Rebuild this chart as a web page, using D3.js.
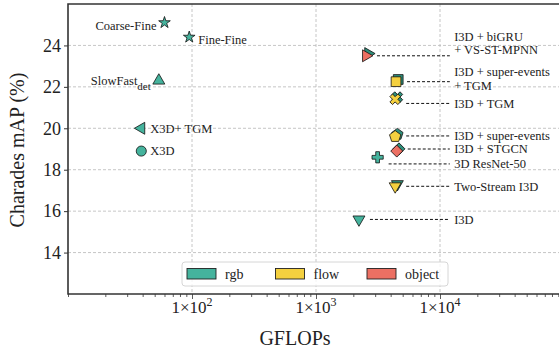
<!DOCTYPE html>
<html>
<head>
<meta charset="utf-8">
<script src="https://cdn.jsdelivr.net/npm/d3@7"></script>
<style>
  body { margin: 0; background: white; }
  text { font-family: 'Liberation Serif', 'DejaVu Serif', serif; fill: #222; }
</style>
</head>
<body>
<script>
// data
const models = ['Coarse-Fine', 'Fine-Fine', 'SlowFast', 'X3D+ TGM', 'X3D',
  'I3D + biGRU|+ VS-ST-MPNN', 'I3D + super-events|+ TGM', 'I3D + TGM',
  'I3D + super-events', 'I3D + STGCN', '3D ResNet-50', 'Two-Stream I3D', 'I3D'];
const gflops = [60, 95, 54, 39, 39, 2530, 4420, 4350, 4350, 4480, 3140, 4350, 2220];
const mAP = [25.1, 24.4, 22.3, 20.0, 18.9, 23.5, 22.25, 21.4, 19.6, 18.9, 18.6, 17.2, 15.6];
const modality = ['rgb', 'rgb', 'rgb', 'rgb', 'rgb', 'object', 'flow', 'flow', 'flow', 'object', 'rgb', 'flow', 'rgb'];
const plusRgb = [false, false, false, false, false, true, true, true, true, true, false, true, false];
const shapes = ['star', 'star', 'triUp', 'triLeft', 'circle', 'triRight', 'square', 'x', 'pentagon', 'diamond', 'plus', 'triDown', 'triDown'];
// where the label sits: left/right of the marker, or in the right-hand column
const labelSide = ['end', 'start', 'end', 'start', 'start', 'col', 'col', 'col', 'col', 'col', 'col', 'col', 'col'];
const labelMAP = [null, null, null, null, null, 24.1, 22.4, 21.2, 19.63, 19.0, 18.28, 17.2, 15.6];
const subs = ['', '', 'det', '', '', '', '', '', '', '', '', '', ''];

const legendKeys = ['rgb', 'flow', 'object'];
const colors = { rgb: '#45B39D', flow: '#F4D03F', object: '#EC7063' };
const yTicks = [14, 16, 18, 20, 22, 24];
const xMajor = [100, 1000, 10000];

let dim = { width: 559, height: 351 };
let svg = d3.select('body').append('svg').attr('width', dim.width).attr('height', dim.height);

let plot = { left: 68, top: 4, right: 564, bottom: 294 };
let x = d3.scaleLog().domain([10, 1e5]).range([plot.left, plot.right]);
let y = d3.scaleLinear().domain([12, 26]).range([plot.bottom, plot.top]);

// grid
let grid = svg.append('g').attr('stroke', '#b8b8b8').attr('stroke-width', 0.8).attr('stroke-dasharray', '3 2');
grid.selectAll('.gx').data(xMajor).enter().append('line')
  .attr('x1', d => x(d)).attr('x2', d => x(d)).attr('y1', plot.top).attr('y2', plot.bottom);
grid.selectAll('.gy').data(yTicks).enter().append('line')
  .attr('x1', plot.left).attr('x2', plot.right).attr('y1', d => y(d)).attr('y2', d => y(d));

// axes
let xAxis = d3.axisBottom(x).tickValues(x.ticks()).tickFormat('')
  .tickSize(0).tickSizeOuter(0);
let gx = svg.append('g').attr('transform', `translate(0,${plot.bottom})`).call(xAxis);
gx.select('.domain').remove();
gx.selectAll('.tick line').attr('stroke', '#333')
  .attr('y2', d => xMajor.includes(d) ? 5 : 3).attr('stroke-width', 0.8);
let xl = gx.selectAll('.tl').data(xMajor).enter().append('text')
  .attr('x', d => x(d)).attr('y', 19).attr('text-anchor', 'middle')
  .style('font-size', '17px');
xl.append('tspan').text('1×10');
xl.append('tspan').attr('dy', -7).style('font-size', '12px').text(d => Math.log10(d));

let yAxis = d3.axisLeft(y).tickValues(yTicks).tickSize(4).tickPadding(3);
let gy = svg.append('g').attr('transform', `translate(${plot.left},0)`).call(yAxis);
gy.select('.domain').remove();
gy.selectAll('.tick line').attr('stroke', '#333');
gy.selectAll('.tick text').style('font-size', '18px').style('font-family', 'Liberation Serif').attr('fill', '#222');

// spines
svg.append('polyline')
  .attr('points', `${plot.right},${plot.top} ${plot.left},${plot.top} ${plot.left},${plot.bottom} ${plot.right},${plot.bottom}`)
  .attr('fill', 'none').attr('stroke', '#333').attr('stroke-width', 1.6);

// axis titles
svg.append('text').attr('x', 295).attr('y', 345).attr('text-anchor', 'middle')
  .style('font-size', '20px').text('GFLOPs');
svg.append('text').attr('transform', 'translate(24,150) rotate(-90)').attr('text-anchor', 'middle')
  .style('font-size', '20px').text('Charades mAP (%)');

// marker shapes
const pentagon = {
  draw(ctx, size) {
    let r = Math.sqrt(size / (2.5 * Math.sin(2 * Math.PI / 5)));
    for (let i = 0; i < 5; i++) {
      let a = -Math.PI / 2 + i * 2 * Math.PI / 5;
      if (i === 0) ctx.moveTo(r * Math.cos(a), r * Math.sin(a));
      else ctx.lineTo(r * Math.cos(a), r * Math.sin(a));
    }
    ctx.closePath();
  }
};
const shapeDefs = {
  star: [d3.symbolStar, 42, 0],
  triUp: [d3.symbolTriangle, 62, 0],
  triLeft: [d3.symbolTriangle, 62, -90],
  triRight: [d3.symbolTriangle, 62, 90],
  triDown: [d3.symbolTriangle, 62, 180],
  circle: [d3.symbolCircle, 80, 0],
  square: [d3.symbolSquare, 95, 0],
  x: [d3.symbolCross, 70, 45],
  pentagon: [pentagon, 85, 0],
  diamond: [d3.symbolSquare, 72, 45],
  plus: [d3.symbolCross, 70, 0]
};

let idx = d3.range(models.length);
let marks = svg.append('g');
idx.forEach(i => {
  let [type, size, rot] = shapeDefs[shapes[i]];
  let path = d3.symbol().type(type).size(size)();
  let cx = x(gflops[i]), cy = y(mAP[i]);
  if (plusRgb[i]) {
    marks.append('path').attr('d', path)
      .attr('transform', `translate(${cx + 2.2},${cy - 2.2}) rotate(${rot})`)
      .attr('fill', '#2f8f7b').attr('stroke', '#111').attr('stroke-width', 0.8);
  }
  marks.append('path').attr('d', path)
    .attr('transform', `translate(${cx},${cy}) rotate(${rot})`)
    .attr('fill', colors[modality[i]]).attr('stroke', '#111').attr('stroke-width', 0.8);
});

// labels
let labels = svg.append('g').style('font-size', '12.5px');
let colX = x(13000), lineEnd = x(12000);
idx.forEach(i => {
  let cx = x(gflops[i]), cy = y(mAP[i]);
  if (labelSide[i] !== 'col') {
    let left = labelSide[i] === 'end';
    let t = labels.append('text')
      .attr('x', cx + (left ? -8 : 9)).attr('y', cy + (i < 2 ? 2.5 : 0))
      .attr('dy', '0.35em').attr('text-anchor', labelSide[i]);
    t.append('tspan').text(models[i]);
    if (subs[i]) t.append('tspan').attr('dy', 5).style('font-size', '11px').text(subs[i]);
    return;
  }
  let lines = models[i].split('|');
  let ly = y(labelMAP[i]);
  let lineY = lines.length > 1 ? cy : ly;
  labels.append('line').attr('x1', cx + 11).attr('x2', lineEnd)
    .attr('y1', lineY).attr('y2', lineY)
    .attr('stroke', '#111').attr('stroke-width', 1).attr('stroke-dasharray', '3 2');
  let t = labels.append('text').attr('x', colX).attr('y', ly - (lines.length - 1) * 6.75);
  lines.forEach((s, k) => t.append('tspan').attr('x', colX).attr('dy', k ? 13.5 : '0.35em').text(s));
});

// legend
let lg = svg.append('g').attr('transform', 'translate(182,262)');
lg.append('rect').attr('width', 266).attr('height', 24).attr('rx', 3)
  .attr('fill', 'white').attr('fill-opacity', 0.8).attr('stroke', '#d6d6d6');
let items = lg.selectAll('.item').data(legendKeys).enter().append('g')
  .attr('transform', (d, k) => `translate(${5 + [0, 88.5, 180][k]},6.5)`);
items.append('rect').attr('width', 29).attr('height', 10.5)
  .attr('fill', d => colors[d]).attr('stroke', '#222').attr('stroke-width', 0.9);
items.append('text').attr('x', 38).attr('y', 5.5).attr('dy', '0.35em')
  .style('font-size', '14px').text(d => d);
</script>
</body>
</html>
